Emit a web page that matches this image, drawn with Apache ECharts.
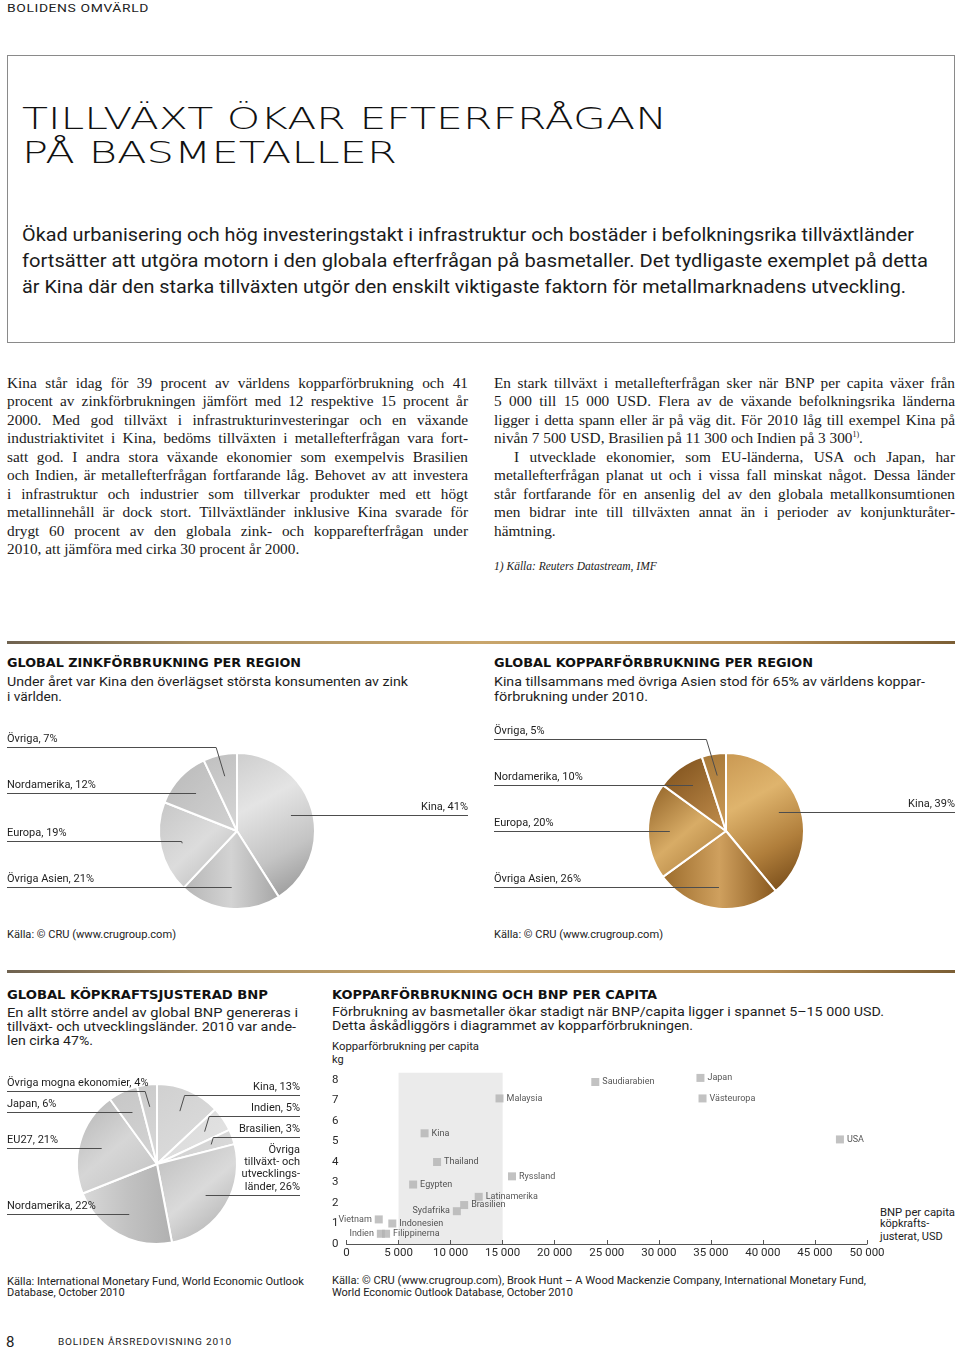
<!DOCTYPE html>
<html><head><meta charset="utf-8">
<script src="https://cdn.jsdelivr.net/npm/echarts@6/dist/echarts.min.js"></script>
<style>
html,body{margin:0;padding:0;background:#fff;}
body{width:960px;height:1357px;position:relative;overflow:hidden;font-family:Roboto,"Liberation Sans",sans-serif;color:#1b1b1b;}
.t{position:absolute;white-space:nowrap;transform-origin:0 50%;}
.h{font-family:"DejaVu Sans",sans-serif;font-weight:bold;font-size:12.5px;line-height:16px;color:#111;}
.sub{font-size:13px;line-height:14px;color:#1e1e1e;}
.src{font-size:11px;line-height:12px;color:#222;}
.col{position:absolute;font-family:"Liberation Serif","DejaVu Serif",serif;font-size:15.3px;line-height:18.5px;color:#1a1a1a;}
.col .j,.col .l{white-space:nowrap;width:max-content;}
.sep{position:absolute;left:7px;width:948px;height:3px;background:linear-gradient(90deg,#6f6250 0%,#a88f62 20%,#c9a66c 50%,#b48e56 80%,#7b5e34 100%);}
#chart{position:absolute;left:0;top:0;width:960px;height:1357px;z-index:2;pointer-events:none;}
</style></head>
<body>
<div class="t" data-w="142" style="left:7px;top:1px;font-size:11.5px;line-height:14px;letter-spacing:.5px;color:#222;">BOLIDENS OMVÄRLD</div>
<div style="position:absolute;left:7px;top:55px;width:948px;height:288px;border:1px solid #8a8a8a;box-sizing:border-box;"></div>
<div class="t" data-w="645" style="left:22px;top:101px;font-family:'DejaVu Sans',sans-serif;font-weight:200;font-size:31px;line-height:34px;color:#111;">TILLVÄXT ÖKAR EFTERFRÅGAN</div>
<div class="t" data-w="375" style="left:22px;top:135px;font-family:'DejaVu Sans',sans-serif;font-weight:200;font-size:31px;line-height:34px;color:#111;">PÅ BASMETALLER</div>
<div class="t" data-w="892" style="left:22px;top:222px;font-size:17.5px;line-height:26px;">Ökad urbanisering och hög investeringstakt i infrastruktur och bostäder i befolkningsrika tillväxtländer</div>
<div class="t" data-w="906" style="left:22px;top:248px;font-size:17.5px;line-height:26px;">fortsätter att utgöra motorn i den globala efterfrågan på basmetaller. Det tydligaste exemplet på detta</div>
<div class="t" data-w="884" style="left:22px;top:274px;font-size:17.5px;line-height:26px;">är Kina där den starka tillväxten utgör den enskilt viktigaste faktorn för metallmarknadens utveckling.</div>

<div class="col" style="left:7px;top:373.5px;">
<div class="j">Kina står idag för 39 procent av världens kopparförbrukning och 41</div>
<div class="j">procent av zinkförbrukningen jämfört med 12 respektive 15 procent år</div>
<div class="j">2000. Med god tillväxt i infrastrukturinvesteringar och en växande</div>
<div class="j">industriaktivitet i Kina, bedöms tillväxten i metallefterfrågan vara fort-</div>
<div class="j">satt god. I andra stora växande ekonomier som exempelvis Brasilien</div>
<div class="j">och Indien, är metallefterfrågan fortfarande låg. Behovet av att investera</div>
<div class="j">i infrastruktur och industrier som tillverkar produkter med ett högt</div>
<div class="j">metallinnehåll är dock stort. Tillväxtländer inklusive Kina svarade för</div>
<div class="j">drygt 60 procent av den globala zink- och kopparefterfrågan under</div>
<div class="l">2010, att jämföra med cirka 30 procent år 2000.</div>
</div>
<div class="col" style="left:494px;top:373.5px;">
<div class="j">En stark tillväxt i metallefterfrågan sker när BNP per capita växer från</div>
<div class="j">5 000 till 15 000 USD. Flera av de växande befolkningsrika länderna</div>
<div class="j">ligger i detta spann eller är på väg dit. För 2010 låg till exempel Kina på</div>
<div class="l">nivån 7 500 USD, Brasilien på 11 300 och Indien på 3 300<sup style="font-size:8px;line-height:0;">1)</sup>.</div>
<div class="j" data-indent="20" style="padding-left:20px;">I utvecklade ekonomier, som EU-länderna, USA och Japan, har</div>
<div class="j">metallefterfrågan planat ut och i vissa fall minskat något. Dessa länder</div>
<div class="j">står fortfarande för en ansenlig del av den globala metallkonsumtionen</div>
<div class="j">men bidrar inte till tillväxten annat än i perioder av konjunkturåter-</div>
<div class="l">hämtning.</div>
</div>
<div class="t" style="left:494px;top:559px;font-family:'Liberation Serif',serif;font-style:italic;font-size:11.5px;line-height:14px;">1) Källa: Reuters Datastream, IMF</div>

<div class="sep" style="top:641px;"></div>
<div class="t h" data-w="294" style="left:7px;top:655px;">GLOBAL ZINKFÖRBRUKNING PER REGION</div>
<div class="t sub" data-w="401" style="left:7px;top:675.3px;">Under året var Kina den överlägset största konsumenten av zink</div>
<div class="t sub" data-w="55" style="left:7px;top:689.7px;">i världen.</div>
<div class="t h" data-w="319" style="left:494px;top:655px;">GLOBAL KOPPARFÖRBRUKNING PER REGION</div>
<div class="t sub" data-w="431" style="left:494px;top:675.3px;">Kina tillsammans med övriga Asien stod för 65% av världens koppar-</div>
<div class="t sub" data-w="154" style="left:494px;top:689.7px;">förbrukning under 2010.</div>
<div class="t src" data-w="169" style="left:7px;top:929px;">Källa: © CRU (www.crugroup.com)</div>
<div class="t src" data-w="169" style="left:494px;top:929px;">Källa: © CRU (www.crugroup.com)</div>

<div class="sep" style="top:970px;"></div>
<div class="t h" data-w="261" style="left:7px;top:987px;">GLOBAL KÖPKRAFTSJUSTERAD BNP</div>
<div class="t sub" data-w="291" style="left:7px;top:1006.3px;">En allt större andel av global BNP genereras i</div>
<div class="t sub" data-w="289" style="left:7px;top:1020.3px;">tillväxt- och utvecklingsländer. 2010 var ande-</div>
<div class="t sub" data-w="86" style="left:7px;top:1033.7px;">len cirka 47%.</div>
<div class="t h" data-w="325" style="left:332px;top:987px;">KOPPARFÖRBRUKNING OCH BNP PER CAPITA</div>
<div class="t sub" data-w="552" style="left:332px;top:1005px;">Förbrukning av basmetaller ökar stadigt när BNP/capita ligger i spannet 5–15 000 USD.</div>
<div class="t sub" data-w="361" style="left:332px;top:1019px;">Detta åskådliggörs i diagrammet av kopparförbrukningen.</div>
<div class="t src" data-w="147" style="left:332px;top:1040.5px;">Kopparförbrukning per capita</div>
<div class="t src" style="left:332px;top:1053.5px;">kg</div>
<div class="t src" data-w="75" style="left:880px;top:1206.7px;">BNP per capita</div>
<div class="t src" style="left:880px;top:1218.3px;">köpkrafts-</div>
<div class="t src" style="left:880px;top:1230.7px;">justerat, USD</div>
<div class="t src" data-w="297" style="left:7px;top:1275.7px;">Källa: International Monetary Fund, World Economic Outlook</div>
<div class="t src" style="left:7px;top:1287.3px;">Database, October 2010</div>
<div class="t src" data-w="534" style="left:332px;top:1275px;">Källa: © CRU (www.crugroup.com), Brook Hunt – A Wood Mackenzie Company, International Monetary Fund,</div>
<div class="t src" style="left:332px;top:1287px;">World Economic Outlook Database, October 2010</div>

<div class="t" style="left:6px;top:1333px;font-size:15px;line-height:18px;color:#222;">8</div>
<div class="t" data-w="174" style="left:58px;top:1336px;font-size:9.5px;line-height:12px;letter-spacing:.8px;color:#222;">BOLIDEN ÅRSREDOVISNING 2010</div>

<div id="chart"></div>
<script>
// ---------- DATA ----------
const zincNames = ['Kina', 'Övriga Asien', 'Europa', 'Nordamerika', 'Övriga'];
const zincValues = [41, 21, 19, 12, 7];

const copperNames = ['Kina', 'Övriga Asien', 'Europa', 'Nordamerika', 'Övriga'];
const copperValues = [39, 26, 20, 10, 5];

const bnpNames = ['Kina', 'Indien', 'Brasilien', 'Övriga\ntillväxt- och\nutvecklings-\nländer', 'Nordamerika', 'EU27', 'Japan', 'Övriga mogna ekonomier'];
const bnpValues = [13, 5, 3, 26, 22, 21, 6, 4];

const countryNames = ['Vietnam', 'Indien', 'Filippinerna', 'Indonesien', 'Egypten', 'Kina', 'Thailand', 'Sydafrika', 'Brasilien', 'Latinamerika', 'Malaysia', 'Ryssland', 'Saudiarabien', 'Japan', 'Västeuropa', 'USA'];
const gdpPerCapita = [3100, 3300, 3800, 4400, 6400, 7500, 8700, 10600, 11300, 12700, 14700, 15900, 23900, 34000, 34200, 47400];
const copperPerCapita = [1.2, 0.5, 0.5, 1.0, 2.9, 5.4, 4.0, 1.6, 1.9, 2.3, 7.1, 3.3, 7.9, 8.1, 7.1, 5.1];
const growthBand = [5000, 15000];
const leftLabelled = ['Vietnam', 'Indien', 'Sydafrika'];

// ---------- HTML text fitting ----------
function fitTexts() {
  document.querySelectorAll('[data-w]').forEach(el => {
    el.style.transform = 'none';
    const w = el.getBoundingClientRect().width;
    if (w > 0) el.style.transform = 'scaleX(' + (+el.dataset.w / w) + ')';
  });
  document.querySelectorAll('.col .j').forEach(el => {
    const W = 461 - (+(el.dataset.indent || 0));
    el.style.letterSpacing = '0px'; el.style.wordSpacing = '0px';
    const pad = +(el.dataset.indent || 0);
    let w = el.getBoundingClientRect().width - pad;
    const n = el.textContent.length;
    if (w > W - 8) { el.style.letterSpacing = ((W - 8 - w) / n) + 'px'; w = el.getBoundingClientRect().width - pad; }
    const spaces = (el.textContent.match(/ /g) || []).length;
    if (spaces) el.style.wordSpacing = ((W - w) / spaces) + 'px';
  });
}
fitTexts();
if (document.fonts && document.fonts.ready) document.fonts.ready.then(fitTexts);

// ---------- CHART ----------
const FONT = 'Roboto, "Liberation Sans", sans-serif';
function lg(stops, x2, y2) {
  return { type: 'linear', x: 0, y: 0, x2: x2 === undefined ? 1 : x2, y2: y2 === undefined ? 1 : y2,
    colorStops: stops.map((c, i) => ({ offset: i / (stops.length - 1), color: c })) };
}
const zincPalette = [
  lg(['#cdcdcd', '#e4e4e4', '#c4c4c4', '#8e8e8e']),
  lg(['#b5b5b5', '#d3d3d3', '#a5a5a5'], 1, 0),
  lg(['#c6c6c6', '#dcdcdc', '#b4b4b4']),
  lg(['#b9b9b9', '#d2d2d2']),
  lg(['#c0c0c0', '#d6d6d6'])
];
const copperPalette = [
  lg(['#c99852', '#dfb46d', '#b07e3b', '#6b4112']),
  lg(['#9b6b2b', '#cfa05e', '#87571d'], 1, 0),
  lg(['#8e5f24', '#d8ac66', '#a37333']),
  lg(['#7a4d19', '#c38f4d']),
  lg(['#a77838', '#cc9c58'])
];
const bnpPalette = [
  lg(['#d0d0d0', '#dedede']),
  lg(['#d9d9d9', '#e4e4e4']),
  lg(['#cfcfcf', '#dadada']),
  lg(['#bdbdbd', '#dadada', '#a6a6a6']),
  lg(['#d9d9d9', '#c2c2c2', '#b0b0b0'], 1, 0),
  lg(['#b4b4b4', '#d6d6d6', '#c0c0c0']),
  lg(['#c6c6c6', '#d4d4d4']),
  lg(['#cbcbcb', '#d8d8d8'])
];

const pieLayouts = [
  { names: zincNames, values: zincValues, palette: zincPalette, center: [237, 831], radius: 78, leftX: 7, rightX: 468, anchor: 0.72, gap: 46 },
  { names: copperNames, values: copperValues, palette: copperPalette, center: [726, 831], radius: 78, leftX: 494, rightX: 955, anchor: 0.72, gap: 46 },
  { names: bnpNames, values: bnpValues, palette: bnpPalette, center: [157, 1164], radius: 80, leftX: 7, rightX: 300, anchor: 0.72, gap: 21 }
];
const LABEL_LH = 12.3;

function pieAnnotations(cfg) {
  const total = cfg.values.reduce((a, b) => a + b, 0);
  let acc = 0;
  const items = cfg.values.map((v, i) => {
    const a = (acc + v / 2) / total * Math.PI * 2; acc += v;
    const dx = Math.sin(a), dy = -Math.cos(a);
    const ix = cfg.center[0] + dx * cfg.radius * cfg.anchor;
    const iy = cfg.center[1] + dy * cfg.radius * cfg.anchor;
    const text = cfg.names[i] + ', ' + v + '%';
    return { side: dx >= 0 ? 1 : -1, ix, iy, y: iy, text, lines: text.split('\n').length };
  });
  [1, -1].forEach(side => {
    const arr = items.filter(d => d.side === side).sort((a, b) => a.iy - b.iy);
    for (let k = arr.length - 2; k >= 0; k--) {
      const below = arr[k + 1];
      const need = cfg.gap + (below.lines - 1) * LABEL_LH;
      if (arr[k].y > below.y - need) arr[k].y = below.y - need;
    }
  });
  const els = [];
  items.forEach(d => {
    const ly = Math.round(d.y) + 0.5;
    const edge = d.side > 0 ? cfg.rightX : cfg.leftX;
    const pts = [[d.ix, d.iy]];
    if (Math.abs(ly - d.iy) > 1.5) pts.push([d.ix + d.side * 0.3 * Math.abs(ly - d.iy), ly]);
    else pts[0][1] = ly;
    pts.push([edge, ly]);
    els.push({ type: 'polyline', z: 100, shape: { points: pts }, style: { stroke: '#4d4d4d', lineWidth: 1, fill: null } });
    els.push({ type: 'text', z: 100, x: edge, y: ly - 2.5, style: {
      text: d.text, fill: '#1e1e1e', font: '11px ' + FONT, lineHeight: LABEL_LH,
      textAlign: d.side > 0 ? 'right' : 'left', align: d.side > 0 ? 'right' : 'left',
      textVerticalAlign: 'bottom', verticalAlign: 'bottom' } });
  });
  return els;
}

const pieSeries = pieLayouts.map(cfg => ({
  type: 'pie', center: cfg.center, radius: cfg.radius, startAngle: 90, clockwise: true,
  silent: true, animation: false, label: { show: false }, labelLine: { show: false },
  itemStyle: { borderColor: '#ffffff', borderWidth: 2 },
  data: cfg.names.map((n, i) => ({ name: n, value: cfg.values[i], itemStyle: { color: cfg.palette[i] } }))
}));

let graphics = [];
pieLayouts.forEach(cfg => { graphics = graphics.concat(pieAnnotations(cfg)); });

const scatterData = countryNames.map((n, i) => ({
  name: n, value: [gdpPerCapita[i], copperPerCapita[i]],
  label: { position: leftLabelled.indexOf(n) >= 0 ? 'left' : 'right' }
}));

const chart = echarts.init(document.getElementById('chart'), null, { renderer: 'canvas' });
chart.setOption({
  backgroundColor: 'transparent',
  animation: false,
  textStyle: { fontFamily: FONT },
  grid: { left: 346.5, right: 93, top: 1072.8, bottom: 113, containLabel: false },
  xAxis: {
    type: 'value', min: 0, max: 50000, interval: 5000, z: 5,
    axisLine: { show: true, lineStyle: { color: '#555', width: 1 } },
    axisTick: { show: true, inside: true, length: 4, lineStyle: { color: '#555' } },
    splitLine: { show: false },
    axisLabel: { color: '#2a2a2a', fontSize: 11.5, fontFamily: FONT, margin: 3,
      formatter: v => v === 0 ? '0' : (v / 1000) + ' 000' }
  },
  yAxis: {
    type: 'value', min: 0, max: 8.35, interval: 1,
    axisLine: { show: false }, axisTick: { show: false }, splitLine: { show: false },
    axisLabel: { color: '#2a2a2a', fontSize: 11.5, fontFamily: FONT, margin: 8,
      formatter: v => Number.isInteger(v) ? String(v) : '' }
  },
  series: pieSeries.concat([{
    type: 'scatter', symbol: 'rect', symbolSize: 8, silent: true,
    itemStyle: { color: '#b3b3b3' },
    label: { show: true, formatter: '{b}', fontSize: 9, color: '#2a2a2a', distance: 3, fontFamily: FONT },
    data: scatterData,
    markArea: { silent: true, itemStyle: { color: '#ebebeb' },
      data: [[{ xAxis: growthBand[0], yAxis: 0 }, { xAxis: growthBand[1], yAxis: 8.35 }]] },
    z: 3
  }]),
  graphic: graphics
});
</script>
</body></html>
